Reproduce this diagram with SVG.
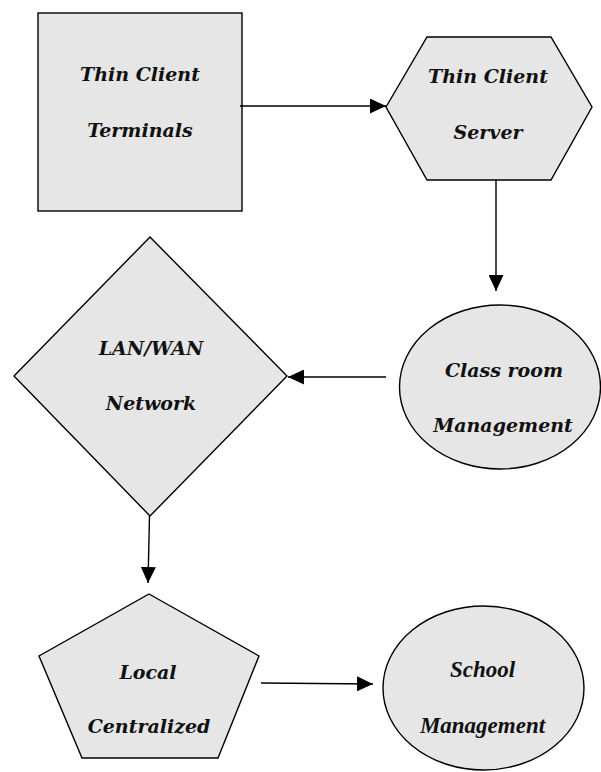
<svg xmlns="http://www.w3.org/2000/svg" width="601" height="772" viewBox="0 0 601 772">
<style>
.shape{fill:#e6e6e6;stroke:#000;stroke-width:1.4}
.lbl{font-family:"DejaVu Serif","Liberation Serif",serif;font-style:italic;font-weight:bold;font-size:19px;text-anchor:middle;fill:#111}
.lbl2{font-family:"Liberation Serif",serif;font-style:italic;font-weight:bold;font-size:23px;text-anchor:middle;fill:#111}
.conn line{stroke:#000;stroke-width:1.4}
</style>
<defs>
<marker id="ah" viewBox="0 0 16 15" refX="16" refY="7.5" markerWidth="16" markerHeight="15" markerUnits="userSpaceOnUse" orient="auto">
<path d="M0,0 L16,7.5 L0,15 Z" fill="#000"/>
</marker>
</defs>
<rect width="601" height="772" fill="#fff"/>
<g id="terminals">
<rect class="shape" x="38" y="13" width="204" height="198"/>
<text class="lbl" x="140" y="81">Thin Client</text>
<text class="lbl" x="140" y="137">Terminals</text>
</g>
<g id="server">
<polygon class="shape" points="386,107 427,37 551,37 592,107 551,180 427,180"/>
<text class="lbl" x="488" y="83">Thin Client</text>
<text class="lbl" x="488" y="139">Server</text>
</g>
<g id="classroom">
<ellipse class="shape" cx="500" cy="387" rx="100.5" ry="82"/>
<text class="lbl" x="504" y="377">Class room</text>
<text class="lbl" x="503" y="432">Management</text>
</g>
<g id="network">
<polygon class="shape" points="150,237 287,376 150,516 14,376"/>
<text class="lbl" x="151" y="355">LAN/WAN</text>
<text class="lbl" x="151" y="410">Network</text>
</g>
<g id="local">
<polygon class="shape" points="149,594 259,656 218,758 82,758 39,656"/>
<text class="lbl" x="148" y="679">Local</text>
<text class="lbl" x="149" y="733">Centralized</text>
</g>
<g id="school">
<ellipse class="shape" cx="483.5" cy="688" rx="100.5" ry="82"/>
<text class="lbl2" x="482.5" y="677">School</text>
<text class="lbl2" x="482.5" y="733">Management</text>
</g>
<g class="conn" id="connectors">
<line x1="240" y1="106" x2="386" y2="106" marker-end="url(#ah)"/>
<line x1="496" y1="180" x2="496" y2="291" marker-end="url(#ah)"/>
<line x1="386" y1="377" x2="288" y2="377" marker-end="url(#ah)"/>
<line x1="149.5" y1="516" x2="148" y2="583" marker-end="url(#ah)"/>
<line x1="261" y1="683" x2="373" y2="684" marker-end="url(#ah)"/>
</g>
</svg>
